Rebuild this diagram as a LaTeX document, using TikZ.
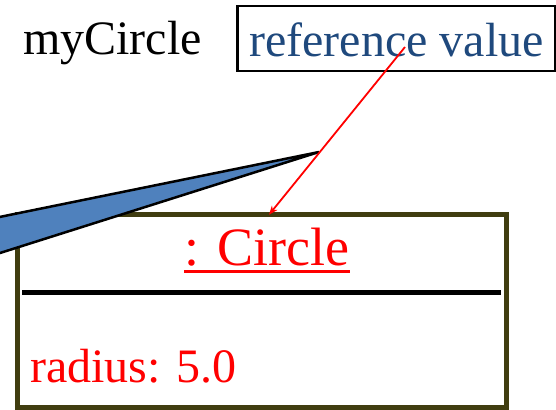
\documentclass[tikz,border=0pt]{standalone}
\usepackage{fontspec}
\setmainfont{Liberation Serif}
\usepackage{xcolor}
\usepackage{tikz}
\usetikzlibrary{positioning,arrows.meta,calc}
\definecolor{refblue}{RGB}{31,73,125}
\definecolor{olivebox}{RGB}{64,61,16}
\definecolor{wedgeblue}{RGB}{79,129,189}

\begin{document}
\begin{tikzpicture}[x=1pt,y=-1pt,
    big/.style={font=\fontsize{48}{56}\selectfont,inner sep=0pt},
    refbox/.style={rectangle,draw,line width=2.5pt,inner xsep=12pt,inner ysep=0pt,
                   text height=50pt,text depth=15pt,text=refblue,font=\fontsize{48}{56}\selectfont},
    objbox/.style={rectangle,draw=olivebox,line width=5pt,outer sep=0pt,
                   minimum width=489pt,minimum height=192.5pt},
    callout/.style={fill=wedgeblue,draw=black,line width=2.5pt},
    arrow/.style={-{Stealth[length=9pt,width=7pt]},red,line width=1.8pt}
]
\useasboundingbox (0,0) rectangle (556,409);
\clip (0,0) rectangle (556,409);

\node[big,anchor=base west] (varname) at (23,55) {myCircle};
\node[refbox,anchor=north west] (refval) at (236,5) {reference value};

\node[objbox] (obj) at (261.5,311) {};
\node[big,font=\fontsize{54}{60}\selectfont,text=red,anchor=base] (title) at (267,265) {: Circle};
\draw[red,line width=3pt] ([yshift=-6.5pt]title.base west) -- ([yshift=-6.5pt]title.base east);
\draw[line width=5pt] (22,292.5) -- (501,292.5);
\node[big,text=red,anchor=base west] (radius) at (30,382) {radius: 5.0};

\draw[callout] (319,152) -- (-30,223) -- (-30,262.5) -- cycle;

\coordinate (ptr) at (405,47);
\draw[arrow] (ptr) -- ([xshift=7.5pt]obj.north);
\end{tikzpicture}
\end{document}
